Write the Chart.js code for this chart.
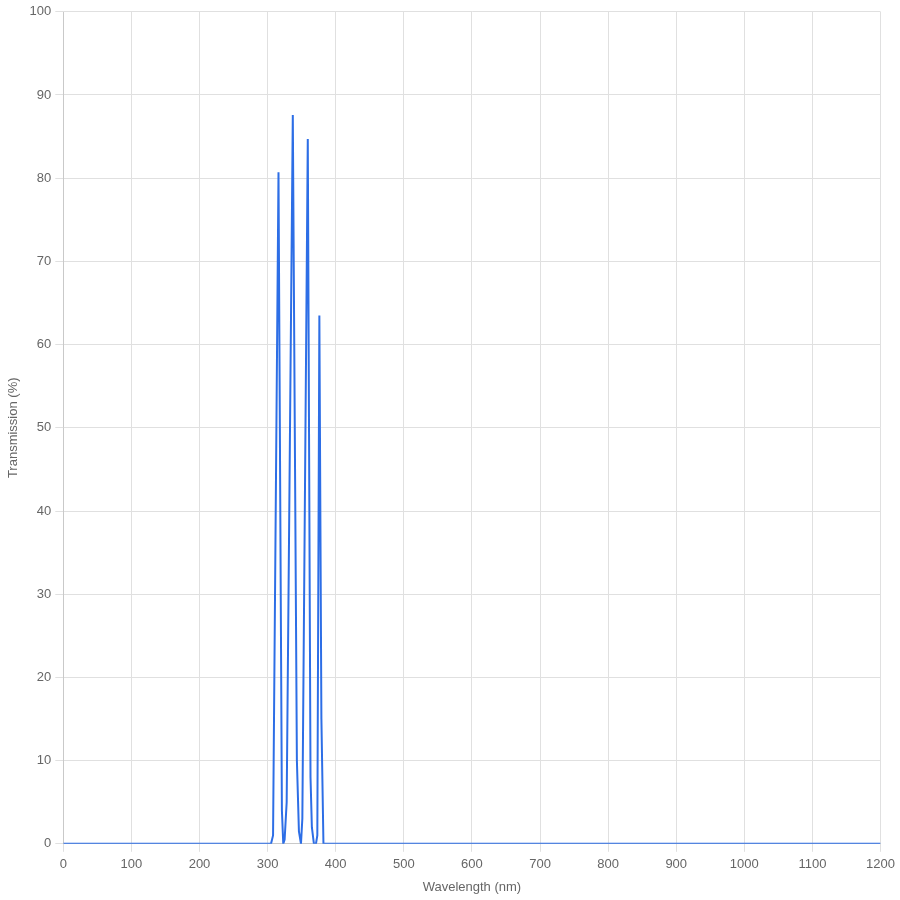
<!DOCTYPE html>
<html>
<head>
<meta charset="utf-8">
<script src="https://cdn.jsdelivr.net/npm/chart.js@4"></script>
<style>
  html, body { margin: 0; padding: 0; background: #fff; }
  #wrap { width: 900px; height: 900px; }
</style>
</head>
<body>
<div id="wrap"><canvas id="chart"></canvas></div>
<script>
// wavelength (nm) and transmission (%)
const wavelengths = [0, 300, 305, 308, 316, 321, 323, 325, 328, 337, 343, 346, 349, 351, 359, 363, 365, 368, 371, 373, 376, 379, 382, 1200];
const transmission = [0, 0, 0, 1, 80.7, 4, 0, 0.5, 5, 87.6, 10, 1.5, 0, 3, 84.7, 8, 2, 0, 0, 1, 63.5, 15, 0, 0];

const xTicks = { min: 0, max: 1200, step: 100 };
const yTicks = { min: 0, max: 100, step: 10 };

const points = wavelengths.map((w, i) => ({ x: w, y: transmission[i] }));

Chart.defaults.font.family = "'Liberation Sans', Arial, sans-serif";
Chart.defaults.font.size = 13;
Chart.defaults.color = "#666";

const ctx = document.getElementById("chart").getContext("2d");
new Chart(ctx, {
  type: "line",
  data: {
    datasets: [
      {
        label: "Transmission",
        data: points,
        borderColor: "rgb(45, 110, 230)",
        borderWidth: 2,
        pointRadius: 0,
        tension: 0,
        fill: false,
      },
    ],
  },
  options: {
    responsive: true,
    maintainAspectRatio: false,
    animation: false,
    layout: { padding: { bottom: 1, top: 2, left: 2, right: 0 } },
    plugins: { legend: { display: false }, tooltip: { enabled: false } },
    scales: {
      x: {
        type: "linear",
        min: xTicks.min,
        max: xTicks.max,
        ticks: { stepSize: xTicks.step, padding: 5, callback: (v) => String(v) },
        grid: { color: "#e0e0e0" },
        title: { display: true, text: "Wavelength (nm)", padding: { top: 2, bottom: 4 } },
      },
      y: {
        min: yTicks.min,
        max: yTicks.max,
        ticks: { stepSize: yTicks.step, padding: 4, callback: (v) => String(v) },
        grid: { color: "#e0e0e0" },
        title: { display: true, text: "Transmission (%)" },
      },
    },
  },
});
</script>
</body>
</html>
